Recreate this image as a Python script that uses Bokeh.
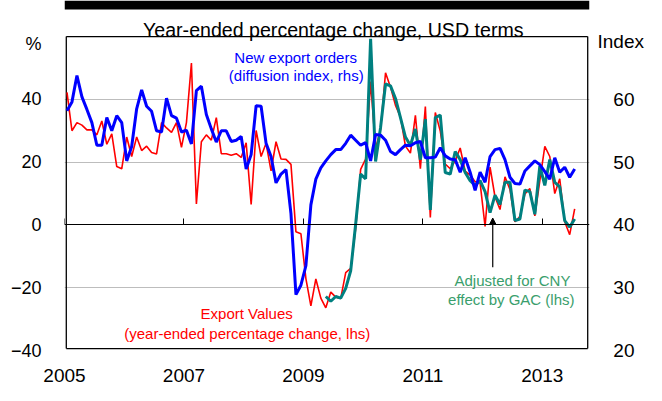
from bokeh.plotting import figure
from bokeh.models import (Range1d, LinearAxis, FixedTicker, Label, Arrow, NormalHead,
                          Grid, BasicTickFormatter, BoxAnnotation)
from bokeh.embed import file_html
from bokeh.resources import INLINE

FONT = "Liberation Sans"

# ---------------- data (monthly, Jan 2005 - Jul 2013) ----------------
start_year = 2005
export_values = [
    42.2, 30.0, 32.6, 31.8, 30.3, 30.3, 28.7, 33.1, 25.7, 29.0, 18.6, 17.9,   # 2005
    28.0, 21.8, 28.0, 23.7, 25.1, 23.1, 22.6, 32.6, 30.9, 29.5, 32.6, 24.7,   # 2006
    32.6, 51.6, 6.7, 26.5, 28.7, 27.0, 34.2, 22.7, 22.7, 22.2, 22.7, 21.5,    # 2007
    26.2, 6.5, 30.1, 21.8, 26.0, 17.2, 26.5, 21.0, 20.9, 19.3, -2.2, -2.8,    # 2008
    -17.1, -25.8, -17.2, -23.3, -26.4, -21.4, -23.0, -23.4, -15.2, -13.8, -1.2, 17.7,  # 2009
    21.0, 45.7, 24.3, 30.5, 48.5, 43.9, 38.1, 34.4, 25.1, 22.9, 34.9, 17.9,   # 2010
    37.7, 2.4, 35.8, 29.9, 19.4, 17.9, 20.4, 24.5, 17.1, 15.9, 13.8, 13.4,    # 2011
    -0.5, 18.4, 8.9, 4.9, 15.3, 11.3, 1.0, 2.7, 9.9, 11.6, 2.9, 14.1,         # 2012
    25.0, 21.8, 10.0, 14.7, 1.0, -3.1, 5.1,                                   # 2013
]
new_export_orders = [
    58.2, 59.6, 63.8, 60.4, 58.4, 56.3, 52.7, 52.7, 57.1, 55.0, 57.4, 56.3,
    50.2, 52.5, 58.5, 61.5, 58.9, 58.1, 55.0, 54.8, 60.2, 57.4, 57.0, 54.8,
    55.1, 52.9, 61.4, 62.1, 57.6, 55.3, 53.2, 55.0, 55.0, 53.3, 53.5, 54.1,
    48.9, 51.2, 59.0, 58.9, 53.0, 50.9, 46.7, 48.1, 48.8, 41.8, 28.9, 30.4,
    33.5, 43.2, 47.3, 49.1, 50.2, 51.2, 52.0, 52.0, 53.0, 54.3, 53.5, 52.7,
    53.1, 50.2, 54.4, 54.3, 53.5, 51.7, 51.2, 52.0, 52.7, 52.6, 53.1, 53.3,
    50.7, 50.7, 50.8, 52.3, 51.0, 50.5, 50.4, 48.4, 50.7, 48.4, 45.5, 48.4,
    46.8, 50.9, 52.0, 52.2, 50.4, 47.6, 46.6, 46.5, 48.6, 49.4, 50.2, 49.6,
    48.5, 47.3, 50.7, 48.4, 49.2, 47.6, 48.9,
]
adjusted_start_index = 52   # May 2009
adjusted_cny = [
    -22.8, -24.3, -22.8, -23.3, -20.2, -14.6, 0.3, 16.2,
    14.7, 59.3, 20.2, 31.0, 44.9, 44.3, 40.3, 34.2, 28.0, 25.3, 30.6, 20.8,
    33.7, 4.8, 34.2, 35.0, 16.7, 16.2, 23.4, 20.8, 16.7, 14.1, 12.6, 14.1,
    10.6, 3.9, 9.5, 6.5, 13.6, 13.6, 1.4, 1.9, 11.1, 10.6, 3.4, 18.8,
    12.6, 20.8, 13.6, 12.1, 1.4, -0.7, 1.9,
]
x_ticks = [2005, 2007, 2009, 2011, 2013]
left_ticks = [-40, -20, 0, 20, 40]
right_ticks = [20, 30, 40, 50, 60]
grid_ticks = [-20, 20, 40]

x_all = [start_year + (i + 0.5) / 12 for i in range(len(export_values))]
x_adj = x_all[adjusted_start_index:adjusted_start_index + len(adjusted_cny)]

# ---------------- figure ----------------
# the frame reaches the top of the canvas so that the heading strip and the
# subtitle can be drawn inside it; the visible box is drawn inside the frame.
X0, X1 = 2005, 2013.79
Y0, Y1 = -40, 60          # visible box (left scale)
YTOP = 71.5               # top of canvas in left-scale units
W, H = 646, 385
p = figure(width=W, height=H, output_backend="svg", toolbar_location=None,
           x_range=Range1d(X0, X1), y_range=Range1d(Y0, YTOP),
           min_border_left=64, min_border_right=48, min_border_top=0,
           min_border_bottom=35)
p.extra_y_ranges = {"idx": Range1d(20, 40 + YTOP / 2)}
p.outline_line_color = None
p.grid.visible = False

# bottom label axis
xa = p.xaxis[0]
xa.ticker = FixedTicker(ticks=x_ticks)
xa.formatter = BasicTickFormatter(use_scientific=False)
xa.axis_line_color = None
xa.major_tick_line_color = None
xa.minor_tick_line_color = None
xa.major_label_standoff = 12
xa.major_label_text_font = FONT
xa.major_label_text_font_size = "19px"
xa.major_label_text_color = "black"

# left axis (with the "%" unit label)
pct_pos = 57.6
ya = p.yaxis[0]
ya.ticker = FixedTicker(ticks=left_ticks + [pct_pos])
ya.major_label_overrides = {pct_pos: "%"}
ya.axis_line_color = None
ya.major_tick_line_color = None
ya.minor_tick_line_color = None
ya.major_label_standoff = 17
ya.major_label_text_font = FONT
ya.major_label_text_font_size = "18px"
ya.major_label_text_color = "black"

# right axis (with the "Index" unit label)
idx_pos = 69.29
pad = "\u00a0\u00a0\u00a0"
right_over = {t: pad + str(t) for t in right_ticks}
right_over[idx_pos] = "Index"
ra = LinearAxis(y_range_name="idx",
                ticker=FixedTicker(ticks=right_ticks + [idx_pos]),
                major_label_overrides=right_over,
                axis_line_color=None, major_tick_line_color=None,
                minor_tick_line_color=None, major_label_standoff=2,
                major_label_text_font=FONT, major_label_text_font_size="19px",
                major_label_text_color="black")
p.add_layout(ra, "right")

# gridlines
p.add_layout(Grid(dimension=1, ticker=FixedTicker(ticks=grid_ticks),
                  grid_line_color="#bdbdbd", grid_line_width=1))

# zero line with upward ticks
za = LinearAxis(fixed_location=0, ticker=FixedTicker(ticks=x_ticks),
                major_label_overrides={t: "" for t in x_ticks},
                axis_line_color="black", axis_line_width=1,
                major_tick_in=6, major_tick_out=0, major_tick_line_color="black",
                minor_tick_line_color=None, major_label_text_alpha=0,
                major_label_standoff=0)
p.add_layout(za, "below")

# heading strip at the top (cut-off title bar)
p.add_layout(BoxAnnotation(bottom=68.6, fill_color="black", fill_alpha=1.0,
                           line_color=None))

# box around the plotting area, kept just inside the frame
bl, br, bb, bt = X0 + 0.03, X1 - 0.03, Y0 + 0.6, Y1
p.multi_line(xs=[[bl, br], [bl, br], [bl, bl], [br, br]],
             ys=[[bb, bb], [bt, bt], [bb, bt], [bb, bt]],
             line_color="black", line_width=1.3)

# ---------------- series ----------------
p.line(x_all, export_values, line_color="#ff0000", line_width=1.6)
p.line(x_adj, adjusted_cny, line_color="#008080", line_width=3)
p.line(x_all, new_export_orders, line_color="#0000ff", line_width=3,
       y_range_name="idx")

# ---------------- texts ----------------
def lab(x, y, text, color="black", size="15px", align="center", baseline="middle"):
    p.add_layout(Label(x=x, y=y, text=text, text_color=color, text_font=FONT,
                       text_font_size=size, text_align=align,
                       text_baseline=baseline))

lab(2009.50, 62.2, "Year-ended percentage change, USD terms", size="19.6px",
    baseline="alphabetic")

lab(2008.87, 53.5, "New export orders", color="#0000ff")
lab(2008.88, 47.7, "(diffusion index, rhs)", color="#0000ff")
lab(2008.05, -28.3, "Export Values", color="#ff0000")
lab(2008.06, -34.5, "(year-ended percentage change, lhs)", color="#ff0000")
lab(2012.50, -17.8, "Adjusted for CNY", color="#3a9e6c")
lab(2012.48, -23.7, "effect by GAC (lhs)", color="#3a9e6c")

p.add_layout(Arrow(end=NormalHead(size=6, fill_color="black", line_color="black"),
                   x_start=2012.17, y_start=-13.5, x_end=2012.17, y_end=2.2,
                   line_color="black", line_width=1.2))

open("out.html", "w").write(file_html(p, INLINE))
